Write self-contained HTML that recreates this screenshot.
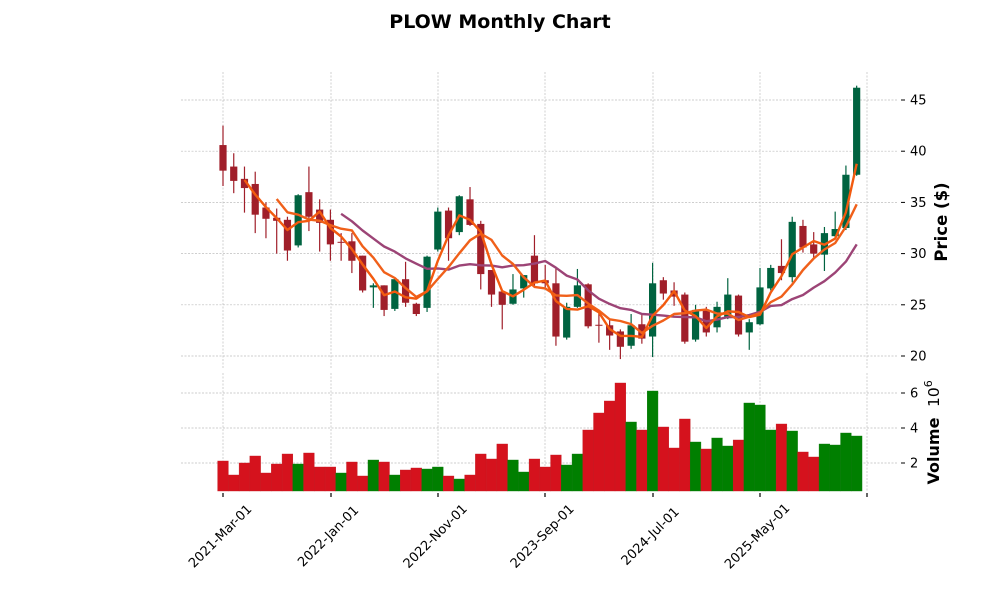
<!DOCTYPE html>
<html><head><meta charset="utf-8"><style>
html,body{margin:0;padding:0;background:#fff;}
svg{display:block;font-family:"DejaVu Sans","Liberation Sans",sans-serif;}
</style></head><body>
<svg id="c" width="1000" height="600" xmlns="http://www.w3.org/2000/svg"></svg>
<script>
const D=[
[40.6,38.1,42.5,36.6],[38.5,37.1,39.8,35.9],[37.3,36.4,38.5,34],[36.8,33.8,38,32],[34.5,33.4,35,31.5],
[33.5,33.2,34.4,30],[33.3,30.3,33.6,29.3],[30.8,35.7,35.8,30.6],[36,33.6,38.5,32.2],[34.3,33,35.3,30.2],
[33.3,30.9,34.3,29.3],[31.15,31.1,32,29.3],[31.2,29.3,32,28.1],[29.8,26.4,29.8,26.2],[26.7,26.9,27.1,24.7],
[26.9,24.5,26.9,23.9],[24.6,27.5,27.6,24.4],[27.5,25.2,29.2,24.8],[25.1,24.1,25.2,23.9],[24.7,29.7,29.8,24.3],
[30.4,34.1,34.5,30.2],[34.2,31.5,34.5,29.3],[32.1,35.6,35.7,31.8],[35.3,32.8,36.5,32.7],[32.9,28,33.2,26.5],
[28.4,26,28.4,24.8],[26.3,25,26.3,22.6],[25.1,26.5,28,25],[26.6,27.9,27.9,25.7],[29.8,27.1,31.8,26.7],
[27.4,27.1,28.9,26.7],[27.1,21.9,28.6,21],[21.8,24.8,25.2,21.6],[24.8,26.9,28.5,24.7],[27,22.9,27.1,22.7],
[23.05,23,24.5,21.3],[23,22,23.6,20.6],[22.4,20.9,22.6,19.7],[21,23,24.1,20.7],[23.1,21.7,24,21.2],
[21.9,27.1,29.1,19.9],[27.4,26.1,27.7,25.5],[26.4,25.8,27.2,24.9],[26,21.4,26.2,21.2],[21.6,24.5,25,21.4],
[24.5,22.3,24.8,21.9],[22.8,24.8,25.3,22.3],[23.7,26,27.6,23.6],[25.9,22.1,26,21.9],[22.3,23.3,23.6,20.6],
[23.1,26.7,28.6,23],[26.6,28.6,28.9,26.4],[28.8,28.1,31.4,27.4],[27.7,33.1,33.6,27.2],[32.7,30.6,33.3,30.1],
[30.9,30,32.1,29.5],[29.9,32,32.6,28.3],[31.7,32.4,34.1,31.6],[32.5,37.7,38.6,32.3],[37.7,46.2,46.4,37.6]];
const V=[[461,0],[475,0],[463,0],[456,0],[473,0],[464,0],[454,0],[464,1],[453,0],[467,0],[467,0],[473,1],[462,0],[476,0],[460,1],
[462,0],[475,1],[470,0],[468,0],[469,1],[467,1],[476,0],[479,1],[475,0],[454,0],[459,0],[444,0],[460,1],[472,1],[459,0],
[467,0],[455,0],[465,1],[454,1],[430,0],[413,0],[401,0],[383,0],[422,1],[430,0],[391,1],[427,0],[448,0],[419,0],[442,1],
[449,0],[438,1],[446,1],[440,0],[403,1],[405,1],[430,1],[424,0],[431,1],[452,0],[457,0],[444,1],[445,1],[433,1],[436,1]];
const X=i=>223+i*10.74, Y=p=>356-(p-20)*10.24;
let s='';
s+='<text x="500" y="28" text-anchor="middle" font-size="19" font-weight="bold">PLOW Monthly Chart</text>';
const gs='stroke="#bdbdbd" stroke-width="0.7" stroke-dasharray="2,1.5"';
[223,331,438,545,653,760,867].forEach(x=>{s+=`<line x1="${x}" y1="72" x2="${x}" y2="368" ${gs}/><line x1="${x}" y1="373" x2="${x}" y2="491" ${gs}/><line x1="${x}" y1="493" x2="${x}" y2="497" stroke="#000" stroke-width="1.2"/>`;});
[20,25,30,35,40,45].forEach(p=>{const y=Y(p);s+=`<line x1="181" y1="${y}" x2="898" y2="${y}" ${gs}/><line x1="901" y1="${y}" x2="905" y2="${y}" stroke="#000"/><text x="910" y="${y+4.5}" font-size="13">${p}</text>`;});
[2,4,6].forEach(v=>{const y=498-17.5*v;s+=`<line x1="181" y1="${y}" x2="898" y2="${y}" ${gs}/><line x1="901" y1="${y}" x2="905" y2="${y}" stroke="#000"/><text x="910" y="${y+4.5}" font-size="13">${v}</text>`;});
V.forEach((v,i)=>{const x=X(i)-5.37;s+=`<rect x="${x}" y="${v[0]}" width="10.74" height="${491-v[0]}" fill="${v[1]?'#007f00':'#d5121d'}" stroke="${v[1]?'#0a7a0a':'#c41a22'}" stroke-width="0.4"/>`;});
D.forEach((d,i)=>{const [o,c,h,l]=d;const x=X(i);const up=c>=o;const col=up?'#006340':'#a01f2a';
s+=`<line x1="${x}" y1="${Y(h)}" x2="${x}" y2="${Y(l)}" stroke="${col}" stroke-width="1.2"/>`;
const t=Y(Math.max(o,c)),b=Y(Math.min(o,c));s+=`<rect x="${x-3.6}" y="${t}" width="7.2" height="${Math.max(b-t,1)}" fill="${col}"/>`;});
function ma(n,col,w){let pts=[];for(let i=n-1;i<D.length;i++){let m=0;for(let k=0;k<n;k++)m+=D[i-k][1];m/=n;pts.push(X(i).toFixed(1)+','+Y(m).toFixed(1));}
s+=`<polyline points="${pts.join(' ')}" fill="none" stroke="${col}" stroke-width="${w}" stroke-linejoin="round"/>`;}
ma(12,'#9c4476',2.4);ma(6,'#f0601a',2.4);ma(3,'#f25a0f',2.4);
s+='<text transform="translate(947,222) rotate(-90)" text-anchor="middle" font-size="16.5" font-weight="bold">Price ($)</text>';
s+='<text transform="translate(939,451) rotate(-90)" text-anchor="middle" font-size="16" font-weight="bold">Volume</text>';
s+='<text transform="translate(939,407) rotate(-90)" font-size="15.5">10<tspan font-size="11" dy="-7">6</tspan></text>';
['2021-Mar-01','2022-Jan-01','2022-Nov-01','2023-Sep-01','2024-Jul-01','2025-May-01'].forEach((t,i)=>{const x=[223,331,438,545,653,760][i];
s+=`<text transform="translate(${x-3},536) rotate(-45)" text-anchor="middle" dy="4.5" font-size="13">${t}</text>`;});
document.getElementById('c').innerHTML=s;
</script>
</body></html>
